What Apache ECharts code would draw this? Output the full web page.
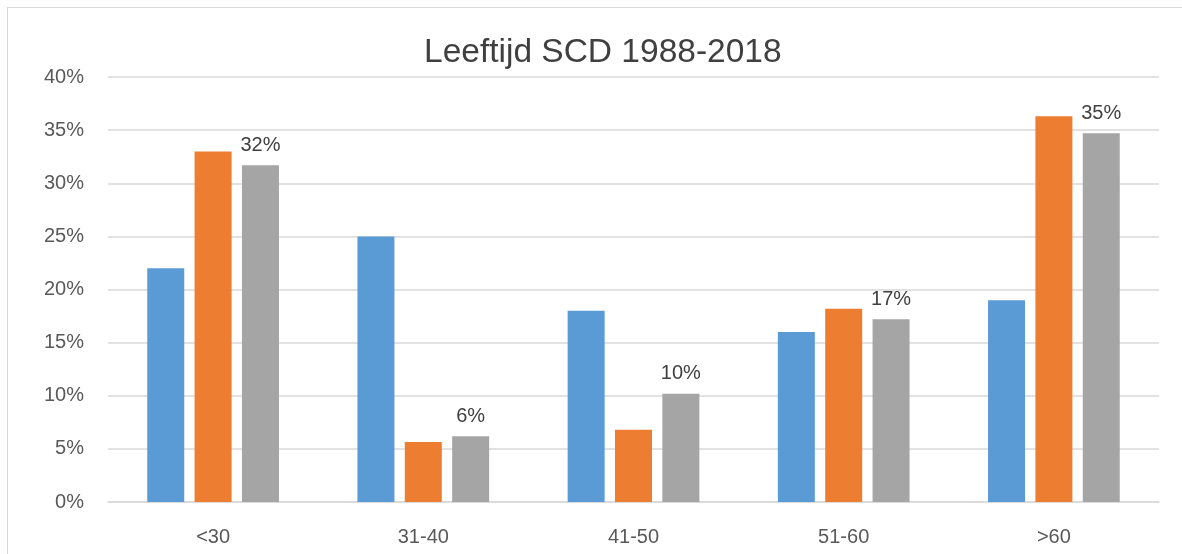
<!DOCTYPE html>
<html>
<head>
<meta charset="utf-8">
<script src="https://cdn.jsdelivr.net/npm/echarts@6/dist/echarts.min.js"></script>
<style>
  html, body { margin: 0; padding: 0; width: 1182px; height: 554px; overflow: hidden; background: #fff; }
  #frame { position: absolute; left: 7px; top: 7px; width: 1200px; height: 600px; border: 1px solid #d9d9d9; box-sizing: border-box; }
  #chart { position: absolute; left: 0; top: 0; width: 1182px; height: 554px; }
</style>
</head>
<body>
<div id="frame"></div>
<div id="chart"></div>
<script>
const titleText = 'Leeftijd SCD 1988-2018';
const categories = ['<30', '31-40', '41-50', '51-60', '>60'];
const seriesBlue = [22, 25, 18, 16, 19];
const seriesOrange = [33, 5.65, 6.8, 18.2, 36.3];
const seriesGray = [31.7, 6.2, 10.2, 17.2, 34.7];
const yTicks = { min: 0, max: 40, interval: 5 };

const FONT = 'Liberation Sans';
const chart = echarts.init(document.getElementById('chart'), null, { renderer: 'canvas' });

chart.setOption({
  animation: false,
  backgroundColor: 'transparent',
  title: {
    text: titleText,
    left: 419,
    top: 31,
    textStyle: { fontFamily: FONT, fontSize: 33.5, fontWeight: 'normal', color: '#404040' }
  },
  grid: { left: 108, right: 23, top: 77, bottom: 52, containLabel: false },
  xAxis: {
    type: 'category',
    data: categories,
    axisLine: { lineStyle: { color: '#d9d9d9', width: 1.5 } },
    axisTick: { show: false },
    axisLabel: { margin: 25, fontFamily: FONT, fontSize: 20, color: '#595959' }
  },
  yAxis: {
    type: 'value',
    min: yTicks.min, max: yTicks.max, interval: yTicks.interval,
    axisLine: { show: false },
    axisTick: { show: false },
    splitLine: { lineStyle: { color: '#d9d9d9', width: 1.5 } },
    axisLabel: { margin: 24, fontFamily: FONT, fontSize: 20, color: '#595959', formatter: '{value}%' }
  },
  series: [
    { type: 'bar', data: seriesBlue, barWidth: 37, barGap: '28%', itemStyle: { color: '#5B9BD5' } },
    { type: 'bar', data: seriesOrange, barWidth: 37, barGap: '28%', itemStyle: { color: '#ED7D31' } },
    { type: 'bar', data: seriesGray, barWidth: 37, barGap: '28%', itemStyle: { color: '#A5A5A5' },
      label: { show: true, position: 'top', distance: 10, fontFamily: FONT, fontSize: 20, color: '#404040',
        formatter: p => Math.round(p.value) + '%' } }
  ]
});
</script>
</body>
</html>
